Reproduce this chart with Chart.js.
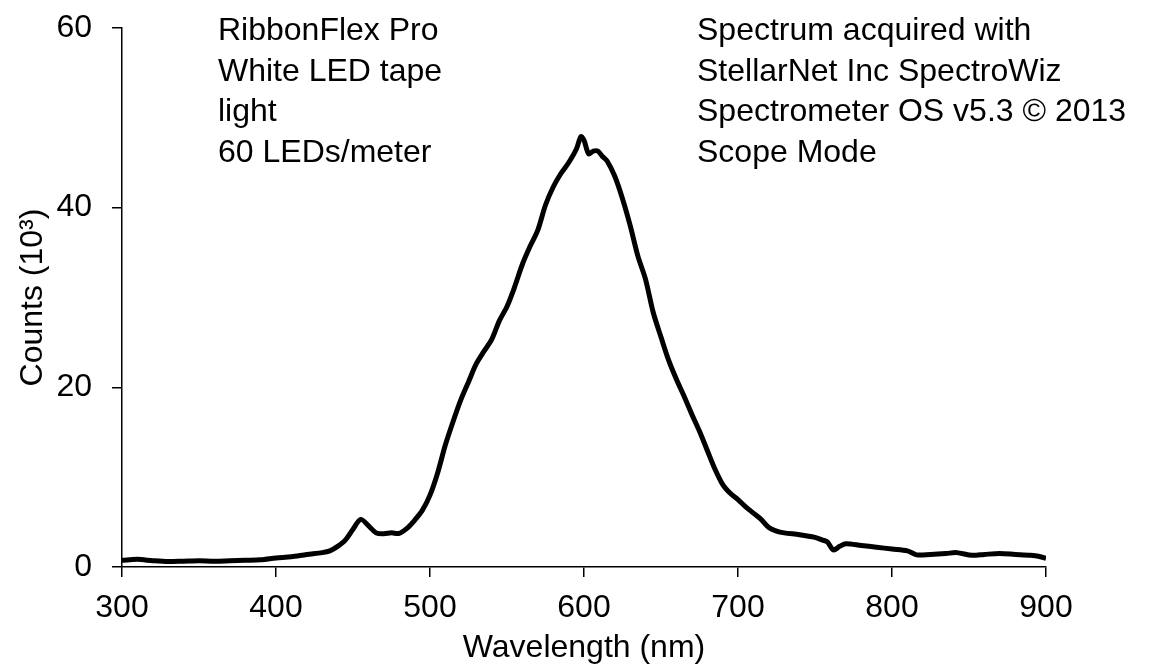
<!DOCTYPE html>
<html lang="en">
<head>
  <meta charset="UTF-8">
  <title>White LED tape spectrum</title>
  <script src="https://cdn.jsdelivr.net/npm/chart.js"></script>
  <style>
    html, body { margin: 0; padding: 0; background: #fff; }
    #wrap { width: 1166px; height: 672px; }
  </style>
</head>
<body>
  <div id="wrap"><canvas id="spectrum"></canvas></div>

  <script>
    // wavelength (nm) and counts (thousands)
    const wavelengths = [300, 310, 320, 330, 340, 350, 360, 370, 380, 390,
      400, 410, 420, 430, 435, 440, 445, 450, 455, 460,
      465, 470, 475, 480, 485, 490, 495, 500, 505, 510,
      515, 520, 525, 530, 535, 540, 545, 550, 555, 560,
      565, 570, 575, 580, 585, 590, 595, 598, 600, 603,
      606, 609, 612, 615, 620, 625, 630, 635, 640, 645,
      650, 655, 660, 665, 670, 675, 680, 685, 690, 695,
      700, 705, 710, 715, 720, 725, 730, 740, 750, 755,
      758, 762, 766, 770, 780, 790, 800, 810, 816, 825,
      835, 842, 852, 860, 870, 880, 890, 895, 900];
    const counts = [0.75, 0.85, 0.7, 0.6, 0.65, 0.7, 0.65, 0.7, 0.75, 0.8,
      1.0, 1.15, 1.4, 1.6, 1.8, 2.3, 3.0, 4.2, 5.3, 4.6,
      3.8, 3.7, 3.8, 3.75, 4.3, 5.2, 6.3, 8.0, 10.5, 13.6,
      16.2, 18.6, 20.6, 22.6, 24.0, 25.3, 27.4, 29.0, 31.2, 33.7,
      35.7, 37.5, 40.3, 42.3, 43.8, 45.0, 46.5, 47.9, 47.5, 46.0,
      46.3, 46.3, 45.7, 45.2, 43.5, 41.0, 38.0, 34.6, 32.0, 28.3,
      25.6, 23.0, 20.9, 19.0, 17.0, 15.1, 13.0, 10.9, 9.2, 8.2,
      7.5, 6.7, 6.0, 5.3, 4.4, 4.0, 3.8, 3.6, 3.3, 3.0,
      2.8, 1.9, 2.3, 2.6, 2.4, 2.2, 2.0, 1.8, 1.35, 1.4,
      1.5, 1.6, 1.3, 1.4, 1.5, 1.4, 1.3, 1.2, 0.95];

    const xTicks = [300, 400, 500, 600, 700, 800, 900];
    const yTicks = [0, 20, 40, 60];

    const leftNote = ["RibbonFlex Pro", "White LED tape", "light", "60 LEDs/meter"];
    const rightNote = ["Spectrum acquired with", "StellarNet Inc SpectroWiz",
      "Spectrometer OS v5.3 \u00A9 2013", "Scope Mode"];

    const FONT = "'Liberation Sans', Arial, sans-serif";
    Chart.defaults.font.family = FONT;
    Chart.defaults.color = "#000";

    // writes the two text blocks in the top of the plot
    const notesPlugin = {
      id: "notes",
      afterDraw(chart) {
        const ctx = chart.ctx;
        ctx.save();
        ctx.fillStyle = "#000";
        ctx.font = "32px " + FONT;
        ctx.textAlign = "left";
        ctx.textBaseline = "alphabetic";
        leftNote.forEach((t, i) => ctx.fillText(t, 218, 40 + i * 40.5));
        rightNote.forEach((t, i) => ctx.fillText(t, 697, 40 + i * 40.5));
        ctx.restore();
      }
    };

    const points = wavelengths.map((w, i) => ({ x: w, y: counts[i] }));

    new Chart(document.getElementById("spectrum"), {
      type: "line",
      data: {
        datasets: [{
          data: points,
          borderColor: "#000",
          borderWidth: 5,
          pointRadius: 0,
          tension: 0.3,
          fill: false
        }]
      },
      options: {
        responsive: true,
        maintainAspectRatio: false,
        animation: false,
        layout: { padding: { top: 28, right: 120, left: 0, bottom: 0 } },
        plugins: {
          legend: { display: false },
          tooltip: { enabled: false }
        },
        scales: {
          x: {
            type: "linear",
            min: 300,
            max: 900,
            afterFit(scale) {
              scale.height = 105;
              scale.paddingLeft = 0;
              scale.paddingRight = 0;
            },
            afterBuildTicks(scale) { scale.ticks = xTicks.map(v => ({ value: v })); },
            grid: { drawOnChartArea: false, drawTicks: true, tickLength: 10, color: "#000", lineWidth: 1.5 },
            border: { color: "#000", width: 1.5 },
            ticks: { font: { size: 32 }, padding: 12, maxRotation: 0 },
            title: { display: true, text: "Wavelength (nm)", font: { size: 32 }, padding: { top: 0, bottom: 5 } }
          },
          y: {
            min: 0,
            max: 60,
            afterFit(scale) {
              scale.width = 122;
              scale.paddingTop = 0;
              scale.paddingBottom = 0;
            },
            afterBuildTicks(scale) { scale.ticks = yTicks.map(v => ({ value: v })); },
            grid: { drawOnChartArea: false, drawTicks: true, tickLength: 10, color: "#000", lineWidth: 1.5 },
            border: { color: "#000", width: 1.5 },
            ticks: { font: { size: 32 }, padding: 20 },
            title: { display: true, text: "Counts (10\u00B3)", font: { size: 32 }, padding: { top: 14, bottom: 0 } }
          }
        }
      },
      plugins: [notesPlugin]
    });
  </script>
</body>
</html>
